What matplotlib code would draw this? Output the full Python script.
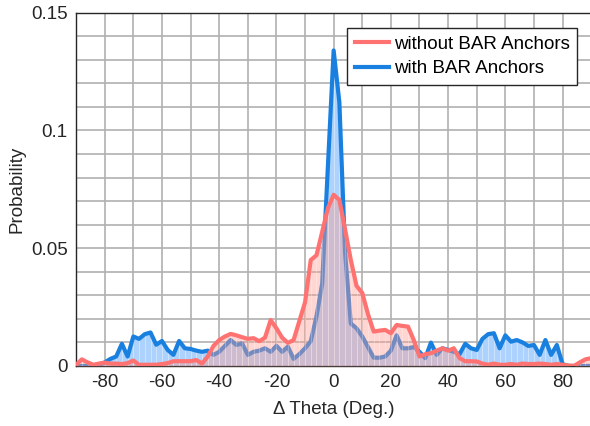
import numpy as np
import matplotlib.pyplot as plt

plt.rcParams['font.family'] = ['Liberation Sans', 'DejaVu Sans']
plt.rcParams['axes.unicode_minus'] = False

# bin centres (deg)
theta = np.arange(-90, 91, 2)

# probability, with BAR anchors (blue)
p_with = [0.0, 0.0, 0.0, 0.0, 0.0005, 0.0015, 0.003, 0.004, 0.0094, 0.004,
          0.0125, 0.0115, 0.0135, 0.0142, 0.009, 0.0106, 0.0068, 0.0047, 0.0106, 0.0075,
          0.0072, 0.0065, 0.006, 0.0065, 0.0047, 0.006, 0.0085, 0.011, 0.0089, 0.0096,
          0.0047, 0.006, 0.0065, 0.0075, 0.006, 0.0085, 0.006, 0.0082, 0.003, 0.005,
          0.0075, 0.0105, 0.021, 0.035, 0.085, 0.134, 0.112, 0.048, 0.018, 0.016,
          0.0125, 0.008, 0.0035, 0.0035, 0.004, 0.0065, 0.013, 0.0075, 0.0075, 0.008,
          0.006, 0.0033, 0.0099, 0.0047, 0.0075, 0.0068, 0.006, 0.005, 0.0094, 0.0075,
          0.0068, 0.0115, 0.0135, 0.0139, 0.0075, 0.013, 0.0103, 0.011, 0.01, 0.0085,
          0.0089, 0.0047, 0.011, 0.0047, 0.0089, 0.0008, 0.0, 0.0, 0.0, 0.0, 0.0]

# probability, without BAR anchors (red)
p_without = [0.0005, 0.0028, 0.0015, 0.0005, 0.001, 0.0014, 0.001, 0.001, 0.0008, 0.0012,
             0.0023, 0.0005, 0.0005, 0.0005, 0.0005, 0.0008, 0.0012, 0.002, 0.002, 0.002,
             0.002, 0.0025, 0.001, 0.004, 0.0085, 0.011, 0.0125, 0.0136, 0.013, 0.0122,
             0.0115, 0.0118, 0.0105, 0.012, 0.0195, 0.016, 0.012, 0.0098, 0.011, 0.019,
             0.027, 0.045, 0.047, 0.057, 0.067, 0.0727, 0.0705, 0.058, 0.045, 0.034,
             0.031, 0.022, 0.0146, 0.015, 0.0153, 0.0139, 0.0174, 0.017, 0.0167, 0.011,
             0.004, 0.005, 0.0054, 0.0065, 0.0075, 0.0065, 0.0075, 0.0033, 0.002, 0.002,
             0.0019, 0.001, 0.0005, 0.001, 0.0005, 0.0005, 0.0008, 0.0005, 0.001, 0.0008,
             0.0008, 0.001, 0.0008, 0.0005, 0.0008, 0.0005, 0.0002, 0.0, 0.0015, 0.0028, 0.0033]

blue = '#1a80e0'
red = '#ff7272'

fig = plt.figure(figsize=(5.9, 4.26), dpi=100)
ax = fig.add_axes([0.129, 0.141, 0.873, 0.829])

# blue area + line
ax.fill_between(theta, p_with, color='#acd2fd', lw=0, zorder=2)
ax.vlines(theta, 0, p_with, color='white', lw=0.6, alpha=0.45, zorder=2.1)
ax.plot(theta, p_with, color=blue, lw=3, label='with BAR Anchors', zorder=3)

# red area (translucent, drawn over the blue line) + line
ax.fill_between(theta, p_without, color='#ff9a8c', alpha=0.4, lw=0, zorder=4)
ax.vlines(theta, 0, p_without, color='white', lw=0.6, alpha=0.3, zorder=4.1)
ax.plot(theta, p_without, color=red, lw=3, label='without BAR Anchors', zorder=5)

ax.set_xlim(-90, 90)
ax.set_ylim(0, 0.15)
ax.set_xticks(range(-80, 81, 20))
ax.set_xticks(range(-90, 91, 10), minor=True)
ax.set_yticks([0, 0.05, 0.1, 0.15])
ax.set_yticklabels(['0', '0.05', '0.1', '0.15'])
ax.set_yticks(np.arange(0, 0.151, 0.01), minor=True)
ax.grid(True, which='both', color='#b0b0b0', lw=1.2, zorder=1)
ax.set_axisbelow(True)
ax.tick_params(which='both', length=0, labelsize=13.5, colors='#262626', pad=6)
for s in ax.spines.values():
    s.set_color('#262626')
    s.set_linewidth(1)

ax.set_xlabel('\u0394 Theta (Deg.)', fontsize=13.5, color='#262626', labelpad=7)
ax.set_ylabel('Probability', fontsize=13.5, color='#262626', labelpad=4)

h, l = ax.get_legend_handles_labels()
leg = ax.legend(h[::-1], l[::-1], loc='upper right', bbox_to_anchor=(0.973, 0.957),
                borderaxespad=0, fancybox=False, framealpha=1, edgecolor='#262626',
                fontsize=13.5, handlelength=1.85, borderpad=0.4, labelspacing=0.4,
                handletextpad=0.25)
leg.get_frame().set_linewidth(1)

fig.savefig('out.png', dpi=100)
